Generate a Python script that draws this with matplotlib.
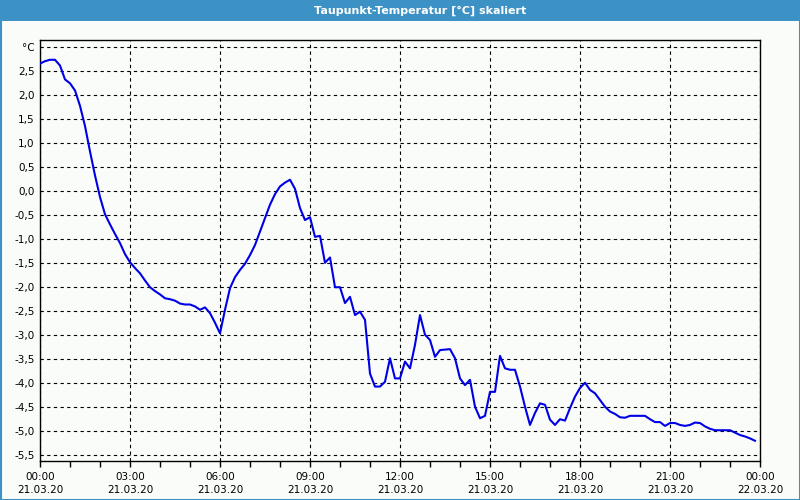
import numpy as np
import matplotlib
matplotlib.use('Agg')
import matplotlib.pyplot as plt
from matplotlib.patches import Rectangle

######## DATA ########
title = 'Taupunkt-Temperatur [°C] skaliert'

# dew point, one reading every 10 minutes from 00:00 to 23:50
dewpoint = [
    2.66, 2.71, 2.74, 2.74, 2.62, 2.33, 2.25, 2.10, 1.78, 1.36, 0.83, 0.33,
    -0.12, -0.48, -0.69, -0.89, -1.08, -1.31, -1.48, -1.60, -1.71, -1.86, -2.00, -2.08,
    -2.15, -2.23, -2.25, -2.28, -2.34, -2.36, -2.36, -2.40, -2.47, -2.42, -2.54, -2.74,
    -2.96, -2.47, -2.02, -1.79, -1.64, -1.51, -1.33, -1.12, -0.84, -0.56, -0.28, -0.06,
    0.10, 0.18, 0.24, 0.05, -0.35, -0.60, -0.54, -0.95, -0.93, -1.49, -1.38, -2.00,
    -2.00, -2.33, -2.20, -2.58, -2.51, -2.68, -3.80, -4.07, -4.07, -3.97, -3.48, -3.90,
    -3.90, -3.55, -3.69, -3.20, -2.58, -2.99, -3.10, -3.45, -3.31, -3.30, -3.29, -3.48,
    -3.90, -4.04, -3.93, -4.49, -4.73, -4.68, -4.18, -4.18, -3.43, -3.69, -3.72, -3.72,
    -4.07, -4.49, -4.87, -4.62, -4.42, -4.45, -4.76, -4.87, -4.75, -4.78, -4.52, -4.28,
    -4.10, -3.99, -4.14, -4.21, -4.35, -4.49, -4.59, -4.64, -4.71, -4.72, -4.68, -4.68,
    -4.68, -4.68, -4.75, -4.81, -4.81, -4.89, -4.83, -4.83, -4.87, -4.89, -4.87, -4.82,
    -4.83, -4.90, -4.95, -4.98, -4.98, -4.98, -4.98, -5.03, -5.08, -5.11, -5.15, -5.20,
]
hours = np.arange(len(dewpoint)) / 6.0

xtick_pos = [0, 3, 6, 9, 12, 15, 18, 21, 24]
xtick_lab = ['00:00\n21.03.20', '03:00\n21.03.20', '06:00\n21.03.20',
             '09:00\n21.03.20', '12:00\n21.03.20', '15:00\n21.03.20',
             '18:00\n21.03.20', '21:00\n21.03.20', '00:00\n22.03.20']
ytick_pos = [-5.5, -5.0, -4.5, -4.0, -3.5, -3.0, -2.5, -2.0, -1.5, -1.0, -0.5,
             0.0, 0.5, 1.0, 1.5, 2.0, 2.5, 3.0]

######## PLOT ########
bg = '#fafcfa'
barblue = '#3d92c5'

fig = plt.figure(figsize=(8, 5), dpi=100, facecolor=bg)

# title bar and outer frame
fig.patches.append(Rectangle((0, 1 - 21/500.), 1, 21/500., transform=fig.transFigure,
                             facecolor=barblue, edgecolor='none', zorder=0))
fig.patches.append(Rectangle((0.5/800, 0.5/500), 1 - 1/800., 1 - 1/500., transform=fig.transFigure,
                             facecolor='none', edgecolor=barblue, lw=1.5, zorder=5))
fig.text(420/800., 1 - 10.5/500., title, color='white', fontsize=8, fontweight='bold',
         ha='center', va='center')

ax = fig.add_axes([40/800., 1 - 460.7/500., 720/800., 420.7/500.])
ax.set_facecolor(bg)
ax.plot(hours, dewpoint, color='#0000e6', lw=1.5, zorder=3)

ax.set_xlim(0, 24)
ax.set_ylim(-5.615, 3.152)

ax.set_xticks(xtick_pos)
ax.set_xticklabels(xtick_lab, fontsize=7.5, linespacing=1.45)
ax.set_xticks(np.arange(0, 25, 1), minor=True)
ax.tick_params(axis='x', which='both', direction='out', length=4, width=1, pad=4)

ylabels = [('%.1f' % v).replace('.', ',') for v in ytick_pos]
ylabels[-1] = '°C'
ax.set_yticks(ytick_pos)
ax.set_yticklabels(ylabels, fontsize=7.5)
ax.tick_params(axis='y', length=0, pad=4)

ax.grid(True, which='major', color='black', linestyle=(0, (3, 3)), lw=0.8)
for s in ax.spines.values():
    s.set_color('black')
    s.set_linewidth(1)

fig.savefig('out.png', dpi=100, facecolor=bg)
